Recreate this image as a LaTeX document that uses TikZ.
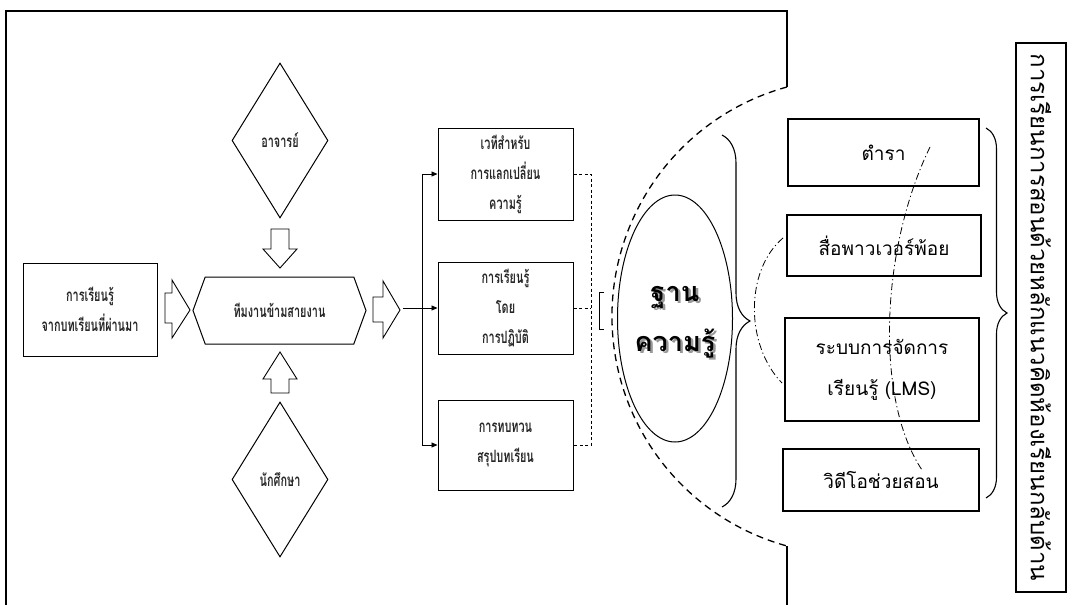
\documentclass[tikz,border=0pt]{standalone}
\usepackage{fontspec}
\usetikzlibrary{arrows.meta,decorations.pathreplacing,shapes.geometric,shapes.symbols,calc}
\newfontfamily\thai[Script=Thai]{Loma}
\newfontfamily\thaicond[Script=Thai,FakeStretch=0.64]{Loma}
\newcommand\shadowtext[1]{\leavevmode\rlap{\raisebox{-2.5pt}{\hspace{2.5pt}\textcolor{black!40}{#1}}}#1}
\begin{document}
\begin{tikzpicture}[x=1pt,y=-1pt,
  frame/.style={line width=1.3pt, line join=miter},
  lfont/.style={font=\thaicond\bfseries\fontsize{17}{30}\selectfont, text=black!85},
  lbox/.style={draw, line width=1pt, inner sep=0pt, align=center, lfont},
  rbox/.style={draw, line width=1.1pt, inner sep=0pt, align=center, font=\thai\fontsize{19}{41}\selectfont},
  blockarrow/.style={draw, line width=0.9pt, fill=white, line join=miter},
  conn/.style={line width=0.9pt, -{Triangle[length=6pt,width=5pt]}},
  dline/.style={line width=1pt, dash pattern=on 3pt off 2.5pt},
  bigdash/.style={line width=1.3pt, dash pattern=on 7pt off 5pt},
  dashdotln/.style={line width=0.8pt, dash pattern=on 7pt off 3pt on 1.2pt off 3pt},
  bracestyle/.style={line width=1.1pt, decorate},
  kbtext/.style={align=center, inner sep=0pt, font=\thai\bfseries\fontsize{27}{50}\selectfont}
]
\useasboundingbox (0,0) rectangle (1072,605);

% outer frame
\draw[frame] (6,605) -- (6,11) -- (787,11) -- (787,87);
\draw[bigdash] (787,87) arc[start angle=-105.35, end angle=-254.65, radius=238];
\draw[frame] (787,546) -- (787,605);

% left part
\node[lbox, minimum width=134pt, minimum height=93pt] (prev) at (90,309.5) {การเรียนรู้\\จากบทเรียนที่ผ่านมา};
\node[draw, line width=1pt, signal, signal to=east and west, signal pointer angle=140,
      minimum width=173pt, minimum height=67pt, inner sep=0pt, lfont] (team) at (279.5,310.5) {ทีมงานข้ามสายงาน};
\node[draw, line width=1pt, diamond, minimum width=96pt, minimum height=155pt, inner sep=0pt,
      lfont] (teacher) at (280,140.5) {อาจารย์};
\node[draw, line width=1pt, diamond, minimum width=96pt, minimum height=155pt, inner sep=0pt,
      lfont] (student) at (280,479.5) {นักศึกษา};

% block arrows
\draw[blockarrow] (165,293) -- (172,293) -- (172,280) -- (190,310) -- (172,338) -- (172,323) -- (165,323) -- cycle;
\draw[blockarrow] (373,297) -- (383,297) -- (383,281) -- (400,310) -- (383,338) -- (383,322) -- (373,322) -- cycle;
\draw[blockarrow] (271,229) -- (289,229) -- (289,249) -- (297,249) -- (280,268) -- (263,249) -- (271,249) -- cycle;
\draw[blockarrow] (271,393) -- (289,393) -- (289,379) -- (297,379) -- (280,352) -- (263,379) -- (271,379) -- cycle;

% three boxes
\node[lbox, minimum width=135pt, minimum height=92pt] (forum) at (505.5,174) {เวทีสำหรับ\\การแลกเปลี่ยน\\ความรู้};
\node[lbox, minimum width=135pt, minimum height=92pt] (practice) at (505.5,308) {การเรียนรู้\\โดย\\การปฏิบัติ};
\node[lbox, minimum width=135pt, minimum height=90pt] (review) at (505.5,445) {การทบทวน\\สรุปบทเรียน};

\coordinate (out) at (403,308);
\coordinate (fork) at (422,308);
\draw[conn] (out) -- (practice.west);
\draw[conn] (fork) |- (forum.west);
\draw[conn] (fork) |- (review.west);

\coordinate (bus) at (591,0);
\draw[dline] (forum.east) -- (forum.east -| bus) -- (review.east -| bus) -- (review.east);
\draw[dline] (practice.east) -- (practice.east -| bus);

% small bracket
\draw[line width=0.9pt] (604,292) -- (599,292) -- (599,329) -- (604,329);

% knowledge base
\node[draw, line width=1pt, ellipse, minimum width=115pt, minimum height=247pt] (kb) at (675,318.5) {};
\node[kbtext] (kbtxt) at (675,323) {\shadowtext{ฐาน}\\\shadowtext{ความรู้}};

% braces
\draw[bracestyle, decoration={brace, amplitude=28pt}] (722,135) -- (722,507);
\draw[bracestyle, decoration={brace, amplitude=21pt}] (986,128) -- (986,498);

% right boxes
\node[rbox, minimum width=191pt, minimum height=67pt] (text1) at (883.5,152.5) {ตำรา};
\node[rbox, minimum width=194pt, minimum height=61pt] (ppt) at (884,245.5) {สื่อพาวเวอร์พ้อย};
\node[rbox, minimum width=194pt, minimum height=103pt] (lms) at (882,369.5) {ระบบการจัดการ\\เรียนรู้ (LMS)};
\node[rbox, minimum width=196pt, minimum height=62pt] (video) at (881,480) {วิดีโอช่วยสอน};

% dash-dot arcs
\draw[dashdotln] (930,147) .. controls (880,250) and (875,400) .. (922,470);
\draw[dashdotln] (783,238) .. controls (745,270) and (745,345) .. (782,383);

% vertical title
\node[draw, line width=1.1pt, rotate=-90, minimum width=549pt, minimum height=50pt, inner sep=0pt,
      font=\thai\fontsize{24}{28}\selectfont] (title) at (1041,317.5) {การเรียนการสอนด้วยหลักแนวคิดห้องเรียนกลับด้าน};
\end{tikzpicture}
\end{document}
